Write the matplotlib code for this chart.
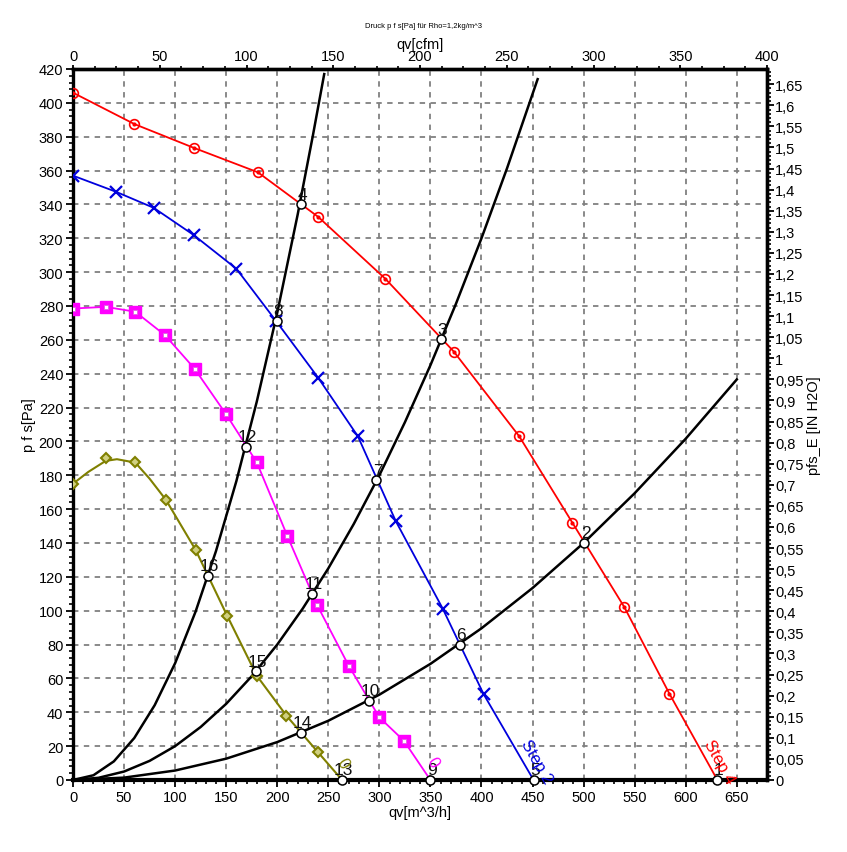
import matplotlib
matplotlib.use("Agg")
import matplotlib.pyplot as plt
import numpy as np
from matplotlib.ticker import FixedLocator, FuncFormatter

plt.rcParams['font.family'] = ['Liberation Sans', 'DejaVu Sans']

# fan curves (q in m^3/h, p in Pa)
red_q = [0, 60, 118, 181, 240, 306, 373, 437, 489, 540, 584, 631]
red_p = [406, 387.5, 373.5, 359, 332.7, 296, 253, 203, 152, 102, 51, 0]

blue_q = [0, 42, 79, 118, 160, 199, 240, 279, 316, 362, 402, 451]
blue_p = [357, 347.5, 338, 322, 302, 271, 237.7, 203, 153, 101.3, 50.8, 0]

mag_q = [0, 32, 61, 90, 119, 150, 180, 210, 239, 270, 300, 324, 350]
mag_p = [278.5, 279.5, 276.6, 262.8, 243, 216, 187.6, 144, 103.4, 67.5, 37, 23.2, 0]

olive_q = [0, 15, 32, 43, 61, 75, 91, 120, 151, 180, 209, 239.5, 263.5]
olive_p = [175, 182, 188.5, 189.5, 187.5, 178, 165.5, 136, 97, 61.6, 38, 16.7, 0]
olive_mark_q = [0, 32, 61, 91, 120, 151, 180, 209, 239.5]
olive_mark_p = [175, 190, 188, 165.5, 136, 97, 61.6, 38, 16.7]

# system curves (read at regular q steps)
sysA_q = [0, 50, 100, 150, 200, 250, 300, 350, 400, 450, 500, 550, 600, 650]
sysA_p = [0, 1.4, 5.6, 12.6, 22.4, 35, 50.4, 68.6, 89.6, 113.4, 140, 169.4, 201.6, 236.6]
sysB_q = [0, 25, 50, 75, 100, 125, 150, 175, 200, 225, 250, 275, 300, 325, 350, 375, 400, 425, 455]
sysB_p = [0, 1.3, 5, 11.3, 20, 31.3, 45, 61.3, 80, 101.3, 125, 151.3, 180, 211.3, 245, 281.3, 320, 361.3, 414]
sysC_q = [0, 20, 40, 60, 80, 100, 120, 140, 160, 180, 200, 220, 235, 246]
sysC_p = [0, 2.8, 11, 24.8, 44.2, 69, 99.4, 135.2, 176.6, 223.6, 276, 334, 381, 417]

# operating points
op_labels = ['1', '2', '3', '4', '5', '6', '7', '8', '9', '10', '11', '12', '13', '14', '15', '16']
op_q = [631, 500.5, 360, 222.9, 451, 379, 297, 199.4, 350, 289.4, 234.3, 169, 263.5, 222.9, 179.2, 132]
op_p = [0, 140, 260.3, 340, 0, 80, 177, 271.3, 0, 46.8, 110, 197, 0, 28, 64.2, 120.5]

fig = plt.figure(figsize=(8.47, 8.53), dpi=100)
ax = fig.add_axes([73/847, 72/853, 694/847, 711/853])

ax.set_xlim(0, 400*1.699)
ax.set_ylim(0, 420)

# grid
ax.xaxis.set_major_locator(FixedLocator(np.arange(0, 651, 50)))
ax.xaxis.set_minor_locator(FixedLocator(np.arange(0, 680, 10)))
ax.yaxis.set_major_locator(FixedLocator(np.arange(0, 421, 20)))
ax.yaxis.set_minor_locator(FixedLocator(np.arange(0, 421, 4)))
ax.grid(True, which='major', color='#808080', linestyle=(0, (3, 3)), linewidth=1.3)

# system curves
for q, p in [(sysA_q, sysA_p), (sysB_q, sysB_p), (sysC_q, sysC_p)]:
    ax.plot(q, p, color='black', lw=1.8, zorder=3)

# fan curves
ax.plot(red_q, red_p, color='#ff0000', lw=1.3, zorder=4)
ax.plot(red_q[:-1], red_p[:-1], ls='none', marker='o', ms=7, mfc='none', mec='#ff0000', mew=1.2, zorder=5)
ax.plot(red_q[:-1], red_p[:-1], ls='none', marker='o', ms=2, mfc='#ff0000', mec='#ff0000', zorder=5)

ax.plot(blue_q, blue_p, color='#0000dd', lw=1.3, zorder=4)
ax.plot(blue_q[:-1], blue_p[:-1], ls='none', marker='x', ms=8, mec='#0000dd', mew=1.6, zorder=5)

ax.plot(mag_q, mag_p, color='#ff00ff', lw=1.3, zorder=4)
ax.plot(mag_q[:-1], mag_p[:-1], ls='none', marker='s', ms=8.5, mfc='#ff00ff', mec='#ff00ff', mew=1, zorder=5)
ax.plot(mag_q[:-1], mag_p[:-1], ls='none', marker='s', ms=3.5, mfc='white', mec='#e060e0', mew=0.6, zorder=5)

ax.plot(olive_q, olive_p, color='#808000', lw=1.5, zorder=4)
ax.plot(olive_mark_q, olive_mark_p, ls='none', marker='D', ms=5.5, mfc='#d0d080', mec='#808000', mew=1.5, zorder=5)

# operating points
ax.plot(op_q, op_p, ls='none', marker='o', ms=6.5, mfc='white', mec='black', mew=1.1, zorder=6, clip_on=False)
for lab, q, p in zip(op_labels, op_q, op_p):
    ax.annotate(lab, (q, p), xytext=(1, 2), textcoords='offset points',
                ha='center', va='bottom', fontsize=12.5, color='#111111', zorder=7)

# curve names
ax.text(633, 11, 'Step 4', color='#ff0000', fontsize=12, rotation=-61, ha='center', va='center', zorder=7)
ax.text(454, 11, 'Step 2', color='#0000dd', fontsize=12, rotation=-60, ha='center', va='center', zorder=7)
ax.text(352, 11, '0', color='#ff00ff', fontsize=12, rotation=-60, ha='center', va='center', zorder=7)
ax.text(264, 10, '0', color='#808000', fontsize=12, rotation=-60, ha='center', va='center', zorder=7)

# axes styling
for s in ax.spines.values():
    s.set_linewidth(2.4)
ax.spines['bottom'].set_linewidth(3)
ax.tick_params(which='major', direction='out', length=5, width=1.3, labelsize=10.5, pad=2)
ax.tick_params(which='minor', direction='out', length=3, width=1.2)
ax.set_xlabel('qv[m^3/h]', fontsize=10.5, labelpad=1)
ax.set_ylabel('p f s[Pa]', fontsize=10.5, labelpad=2)

top = ax.secondary_xaxis('top', functions=(lambda q: q/1.699, lambda c: c*1.699))
top.xaxis.set_major_locator(FixedLocator(np.arange(0, 401, 50)))
top.xaxis.set_minor_locator(FixedLocator(np.arange(0, 401, 12.5)))
top.tick_params(which='major', direction='out', length=3, width=1.3, labelsize=10.5, pad=1)
top.tick_params(which='minor', direction='out', length=2, width=1.2)
top.set_xlabel('qv[cfm]', fontsize=10.5, labelpad=1)
top.spines['top'].set_linewidth(2.4)

right = ax.secondary_yaxis('right', functions=(lambda p: p/249.089, lambda h: h*249.089))
right.yaxis.set_major_locator(FixedLocator(np.round(np.arange(0, 1.66, 0.05), 2)))
right.yaxis.set_minor_locator(FixedLocator(np.round(np.arange(0, 1.686, 0.01), 2)))
right.yaxis.set_major_formatter(FuncFormatter(
    lambda v, pos: ('%.2f' % v).rstrip('0').rstrip('.').replace('.', ',')))
right.tick_params(which='major', direction='out', length=5, width=1.3, labelsize=10.5, pad=1)
right.tick_params(which='minor', direction='out', length=3, width=1.2)
right.set_ylabel('pfs_E [IN H2O]', fontsize=10.5, labelpad=2)
right.spines['right'].set_linewidth(2.4)

fig.text(0.5, 1 - 27/853, 'Druck p f s[Pa] für Rho=1,2kg/m^3', ha='center', va='center', fontsize=5.5)

fig.savefig('out.png', dpi=100)
